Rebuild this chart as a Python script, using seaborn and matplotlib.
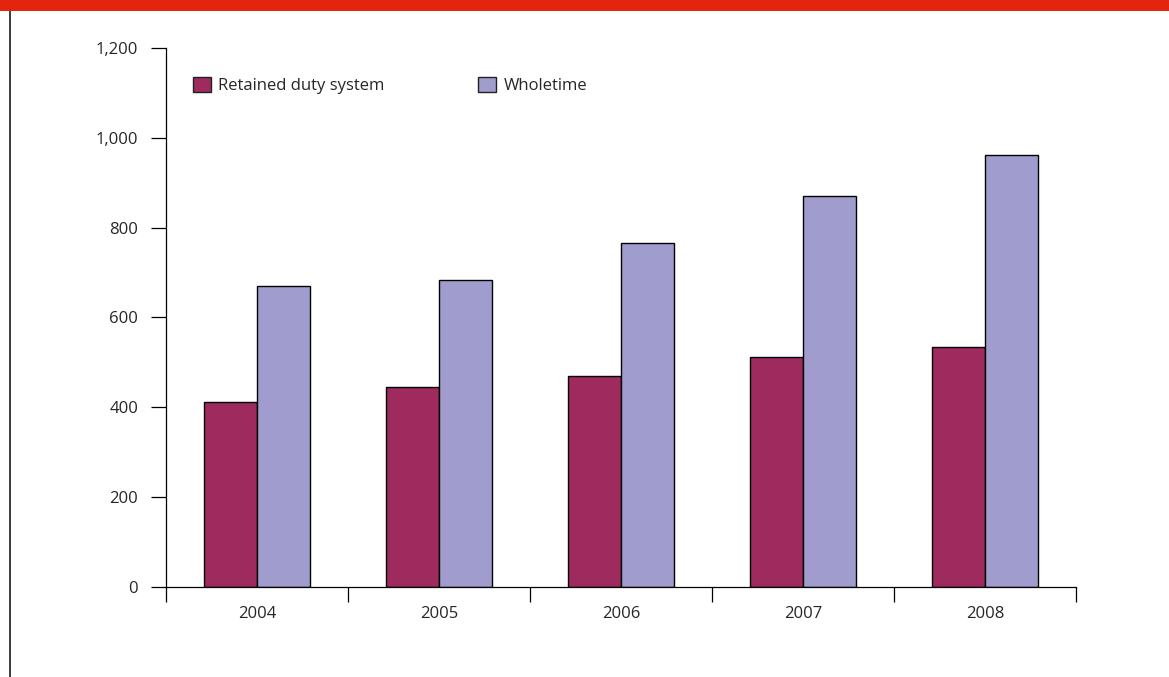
import pandas as pd
import matplotlib.pyplot as plt
import matplotlib.patches as mpatches
from matplotlib.lines import Line2D
from matplotlib.ticker import FuncFormatter
import seaborn as sns

years = ['2004', '2005', '2006', '2007', '2008']
retained = [412, 445, 470, 511, 535]
wholetime = [670, 683, 765, 870, 962]
series_names = ['Retained duty system', 'Wholetime']
series_colors = ['#9E2A5E', '#A09DCE']
y_ticks = [0, 200, 400, 600, 800, 1000, 1200]

df = pd.DataFrame({
    'year': years * 2,
    'value': retained + wholetime,
    'type': [series_names[0]] * len(years) + [series_names[1]] * len(years),
})

sns.set_theme(style='white')
plt.rcParams['font.family'] = ['Open Sans', 'DejaVu Sans']
text_col = '#262626'
fs = 12

W, H = 1169, 677
fig = plt.figure(figsize=(W / 100, H / 100), dpi=100)
ax = fig.add_axes([166 / W, (H - 586.7) / H, (1076 - 166) / W, (586.7 - 48) / H])

sns.barplot(data=df, x='year', y='value', hue='type', palette=series_colors,
            saturation=1, width=0.58, edgecolor='black', linewidth=1,
            legend=False, ax=ax)

ax.set_xlim(-0.5, len(years) - 0.5)
ax.set_ylim(0, 1200)
ax.set_xlabel('')
ax.set_ylabel('')
ax.set_yticks(y_ticks)
ax.yaxis.set_major_formatter(FuncFormatter(lambda v, _: '{:,.0f}'.format(v)))

for s in ['top', 'right']:
    ax.spines[s].set_visible(False)
for s in ['left', 'bottom']:
    ax.spines[s].set_color('black')
    ax.spines[s].set_linewidth(0.9)

ax.set_xticks([i - 0.5 for i in range(len(years) + 1)], minor=True)
ax.tick_params(axis='x', which='major', length=0, pad=14, labelsize=fs, labelcolor=text_col)
ax.tick_params(axis='x', which='minor', length=11, width=0.9, color='black', direction='out', bottom=True)
ax.tick_params(axis='y', which='major', length=11, width=0.9, color='black', direction='out',
               left=True, pad=9, labelsize=fs, labelcolor=text_col)

handles = [mpatches.Patch(facecolor=c, edgecolor='#222222', linewidth=1) for c in series_colors]
fig.legend(handles, series_names, loc='upper left', bbox_to_anchor=(193 / W, 1 - 77 / H),
           ncol=2, frameon=False, fontsize=fs, handlelength=1.08, handleheight=1.02,
           handletextpad=0.45, columnspacing=5.6, borderpad=0, borderaxespad=0,
           labelcolor=text_col)

# red band along the top and thin rule on the left
fig.patches.append(mpatches.Rectangle((0, 1 - 11 / H), 1, 11 / H, transform=fig.transFigure,
                                      facecolor='#E3240F', edgecolor='none', zorder=5))
fig.lines.append(Line2D([9.5 / W, 9.5 / W], [0, 1 - 11 / H], transform=fig.transFigure,
                        color='#1a1a1a', linewidth=1.2))

fig.savefig('out.png', dpi=100)
